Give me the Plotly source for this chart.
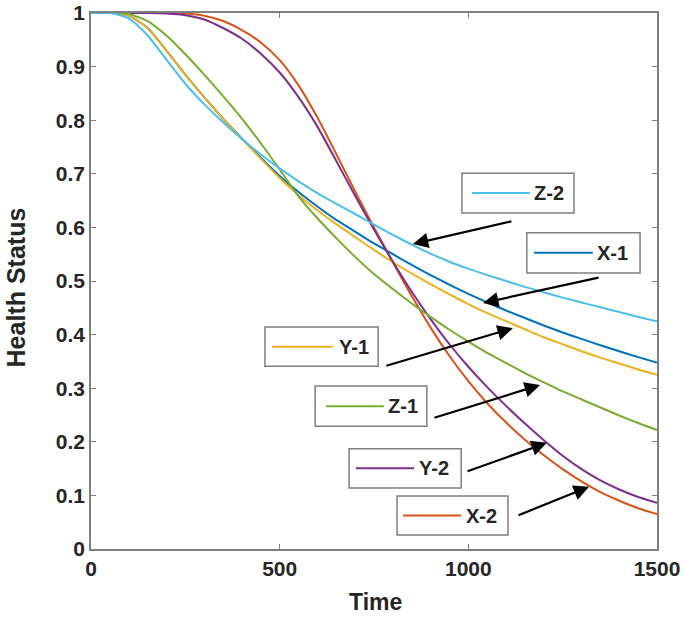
import plotly.graph_objects as go

time = [0, 50, 100, 150, 200, 250, 300, 350, 400, 450, 500, 550, 600, 650, 700,
        750, 800, 850, 900, 950, 1000, 1050, 1100, 1150, 1200, 1250, 1300, 1350, 1400, 1450, 1500]

x1 = [1, 1, 0.995, 0.972, 0.93, 0.885, 0.843, 0.803, 0.766, 0.73, 0.696, 0.666, 0.639, 0.614, 0.592,
      0.57, 0.55, 0.53, 0.511, 0.493, 0.476, 0.46, 0.445, 0.431, 0.417, 0.404, 0.392, 0.38, 0.369, 0.358, 0.348]
x2 = [1, 1, 1, 1, 1, 0.999, 0.995, 0.985, 0.968, 0.945, 0.912, 0.865, 0.805, 0.737, 0.667,
      0.6, 0.535, 0.472, 0.413, 0.36, 0.313, 0.272, 0.236, 0.204, 0.175, 0.149, 0.126, 0.106, 0.09, 0.076, 0.065]
y1 = [1, 1, 0.995, 0.972, 0.93, 0.885, 0.843, 0.803, 0.765, 0.728, 0.692, 0.66, 0.632, 0.606, 0.582,
      0.558, 0.535, 0.514, 0.494, 0.475, 0.457, 0.44, 0.425, 0.41, 0.395, 0.382, 0.369, 0.357, 0.346, 0.335, 0.325]
y2 = [1, 1, 1, 1, 0.999, 0.996, 0.988, 0.972, 0.952, 0.924, 0.889, 0.843, 0.788, 0.724, 0.659,
      0.596, 0.536, 0.48, 0.429, 0.382, 0.34, 0.302, 0.267, 0.234, 0.203, 0.174, 0.149, 0.128, 0.111, 0.097, 0.086]
z1 = [1, 1, 0.998, 0.985, 0.958, 0.923, 0.885, 0.845, 0.803, 0.757, 0.708, 0.658, 0.617, 0.58, 0.545,
      0.513, 0.485, 0.458, 0.433, 0.409, 0.387, 0.366, 0.347, 0.328, 0.311, 0.294, 0.279, 0.264, 0.249, 0.235, 0.222]
z2 = [1, 1, 0.99, 0.958, 0.913, 0.868, 0.83, 0.796, 0.765, 0.736, 0.71, 0.686, 0.664, 0.644, 0.625,
      0.605, 0.586, 0.568, 0.551, 0.536, 0.523, 0.511, 0.5, 0.489, 0.479, 0.469, 0.46, 0.451, 0.442, 0.433, 0.425]

series_names = ["X-1", "X-2", "Y-1", "Y-2", "Z-1", "Z-2"]
series_values = [x1, x2, y1, y2, z1, z2]
colors = {"X-1": "#0072BD", "X-2": "#D95319", "Y-1": "#EDB120",
          "Y-2": "#7E2F8E", "Z-1": "#77AC30", "Z-2": "#4DBEEE"}

x_tick_vals = [0, 500, 1000, 1500]
x_tick_text = ["0", "500", "1000", "1500"]
y_tick_vals = [0, 0.1, 0.2, 0.3, 0.4, 0.5, 0.6, 0.7, 0.8, 0.9, 1]
y_tick_text = ["0", "0.1", "0.2", "0.3", "0.4", "0.5", "0.6", "0.7", "0.8", "0.9", "1"]

# label boxes: (name, box x0, x1, y0, y1, sample line x0, x1, text x, arrow tail (x,y), arrow tip (x,y))
labels = [
    ("Z-2", 983, 1280, 0.627, 0.701, 1010, 1163, 1214, (1118, 0.612), (853, 0.569)),
    ("X-1", 1155, 1455, 0.515, 0.590, 1174, 1330, 1383, (1349, 0.507), (1039, 0.459)),
    ("Y-1", 461, 761, 0.341, 0.414, 480, 641, 697, (779, 0.341), (1118, 0.412)),
    ("Z-1", 594, 890, 0.229, 0.304, 623, 776, 827, (906, 0.244), (1190, 0.306)),
    ("Y-2", 684, 981, 0.114, 0.187, 702, 856, 909, (994, 0.144), (1208, 0.198)),
    ("X-2", 811, 1105, 0.026, 0.099, 827, 981, 1034, (1129, 0.062), (1320, 0.116)),
]

FONT = "Arial, 'Liberation Sans', Helvetica, sans-serif"
TXT = "#262626"

fig = go.Figure()
for name, vals in zip(series_names, series_values):
    fig.add_trace(go.Scatter(x=time, y=vals, mode="lines", name=name,
                             line=dict(color=colors[name], width=2, shape="spline", smoothing=0.6),
                             showlegend=False))

shapes = []
annotations = []
for (name, bx0, bx1, by0, by1, lx0, lx1, tx, tail, tip) in labels:
    ym = (by0 + by1) / 2
    shapes.append(dict(type="rect", xref="x", yref="y", x0=bx0, x1=bx1, y0=by0, y1=by1,
                       line=dict(color="#7f7f7f", width=1.5), fillcolor="white", layer="above"))
    shapes.append(dict(type="line", xref="x", yref="y", x0=lx0, x1=lx1, y0=ym, y1=ym,
                       line=dict(color=colors[name], width=2), layer="above"))
    annotations.append(dict(x=tx, y=ym, xref="x", yref="y", text="<b>%s</b>" % name,
                            showarrow=False, font=dict(family=FONT, size=20, color=TXT),
                            xanchor="center", yanchor="middle"))
    annotations.append(dict(x=tip[0], y=tip[1], ax=tail[0], ay=tail[1], xref="x", yref="y",
                            axref="x", ayref="y", text="", showarrow=True, arrowhead=2,
                            arrowsize=1.4, arrowwidth=2.2, arrowcolor="black"))

# axis titles
annotations.append(dict(x=0.502, y=0, xref="paper", yref="paper", yshift=-53,
                        text="<b>Time</b>", showarrow=False, xanchor="center", yanchor="middle",
                        font=dict(family=FONT, size=23, color=TXT)))
annotations.append(dict(x=0, y=0.488, xref="paper", yref="paper", xshift=-75,
                        text="<b>Health Status</b>", showarrow=False, textangle=-90,
                        xanchor="center", yanchor="middle",
                        font=dict(family=FONT, size=25, color=TXT)))

fig.update_layout(
    width=685, height=617,
    margin=dict(l=91, r=28, t=13, b=68, autoexpand=False),
    paper_bgcolor="white", plot_bgcolor="white",
    font=dict(family=FONT, color=TXT),
    shapes=shapes, annotations=annotations,
    xaxis=dict(range=[0, 1500], tickvals=x_tick_vals, ticktext=x_tick_text, automargin=False,
               showgrid=False, zeroline=False, showline=True, mirror="ticks",
               linecolor="#7f7f7f", linewidth=1.5, ticks="inside", ticklen=5,
               tickcolor="#7f7f7f", tickwidth=1,
               tickfont=dict(family=FONT, size=21, color=TXT, weight="bold")),
    yaxis=dict(range=[0, 1], tickvals=y_tick_vals, ticktext=y_tick_text, automargin=False,
               showgrid=False, zeroline=False, showline=True, mirror="ticks",
               linecolor="#7f7f7f", linewidth=1.5, ticks="inside", ticklen=5,
               tickcolor="#7f7f7f", tickwidth=1,
               tickfont=dict(family=FONT, size=21, color=TXT, weight="bold")),
)

fig.write_html("out.html", config={"displayModeBar": False},
               post_script="document.body.style.margin='0';document.body.style.overflow='hidden';")
